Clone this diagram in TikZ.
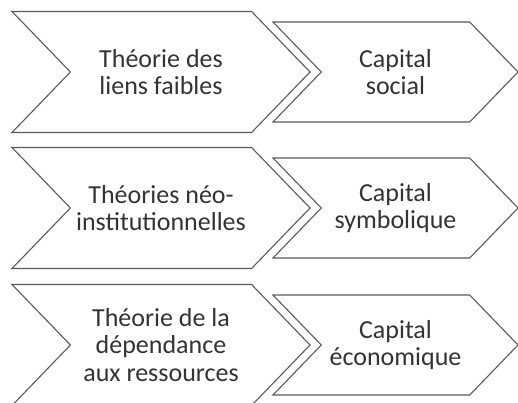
\documentclass[tikz,border=0pt]{standalone}
\usepackage{fontspec}
\setmainfont{Carlito}
\usetikzlibrary{shapes.symbols}
\definecolor{edgegray}{HTML}{5A5A5A}
\definecolor{textgray}{HTML}{333333}
\tikzset{
  theorybox/.style={signal, signal from=west, signal to=east, signal pointer angle=92,
    draw=edgegray, line width=1.1pt, minimum width=298pt, minimum height=121pt,
    inner sep=0pt, align=center, text=textgray, font=\fontsize{26}{27.5}\selectfont},
  capitalbox/.style={theorybox, minimum width=245pt, minimum height=100pt}
}
\begin{document}
\begin{tikzpicture}[x=1pt,y=1pt]
\useasboundingbox (0,0) rectangle (518,-403);
\clip (0,0) rectangle (518,-403);

\node[theorybox] (liens) at (161,-72) {Théorie des\\liens faibles};
\node[capitalbox] (social) at (395.5,-72) {Capital\\social};

\node[theorybox] (neoinst) at (161,-208) {Théories néo-\\institutionnelles};
\node[capitalbox] (symbolique) at (395.5,-208) {Capital\\symbolique};

\node[theorybox] (ressources) at (161,-345) {Théorie de la\\dépendance\\aux ressources};
\node[capitalbox] (economique) at (395.5,-345) {Capital\\économique};

\end{tikzpicture}
\end{document}
